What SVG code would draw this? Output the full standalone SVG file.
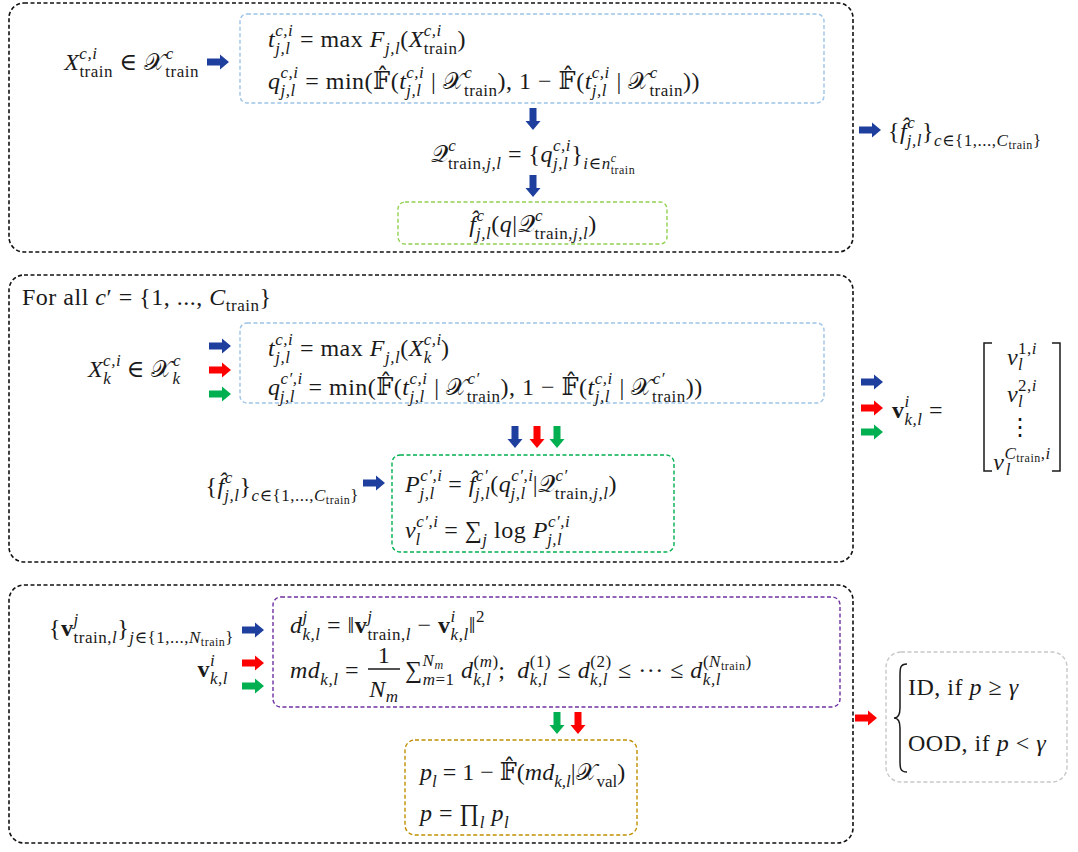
<svg xmlns="http://www.w3.org/2000/svg" width="1078" height="852" viewBox="0 0 1078 852">
<style>
.m{font-family:"Liberation Serif","DejaVu Serif",serif;font-size:24px;letter-spacing:0.5px;fill:#1a1a1a}
.i{font-style:italic}
.s{font-size:17px}
.t{font-size:12px}
.b{font-weight:bold}
.panel{fill:none;stroke:#111;stroke-width:1.6;stroke-dasharray:4 2.5}
.bx{fill:none;stroke-width:1.4;stroke-dasharray:4 2.5}
.blue{fill:#1f3f9e}.red{fill:#ff0000}.green{fill:#00b050}
.ln{fill:none;stroke:#1a1a1a;stroke-width:1.5}
</style>
<defs><path id="ar" d="M-11,-3.5 H2 V-7.5 L11,0 L2,7.5 V3.5 H-11 Z"/></defs>
<rect width="1078" height="852" fill="#fff"/>

<g id="panel1">
<rect class="panel" x="9" y="3" width="844" height="249" rx="15"/>
<g id="p1-input"><text class="m" x="199" y="70" text-anchor="end"><tspan class="i">X</tspan><tspan class="s i" dy="-11">c,i</tspan><tspan class="s" dx="-18" dy="18">train</tspan><tspan dy="-7"> ∈ 𝒳</tspan><tspan class="s i" dy="-11">c</tspan><tspan class="s" dx="-8.5" dy="18">train</tspan></text></g>
<g id="p1-box">
<rect class="bx" x="240" y="14" width="584" height="89" rx="7" stroke="#9dc3e6"/>
<text class="m" x="268" y="47"><tspan class="i">t</tspan><tspan class="s i" dy="-11">c,i</tspan><tspan class="s i" dx="-18" dy="18">j,l</tspan><tspan dx="3" dy="-7"> = max </tspan><tspan class="i">F</tspan><tspan class="s i" dy="7">j,l</tspan><tspan dy="-7">(</tspan><tspan class="i">X</tspan><tspan class="s i" dy="-11">c,i</tspan><tspan class="s" dx="-18" dy="18">train</tspan><tspan dy="-7">)</tspan></text>
<text class="m" x="268" y="89"><tspan class="i">q</tspan><tspan class="s i" dy="-11">c,i</tspan><tspan class="s i" dx="-18" dy="18">j,l</tspan><tspan dx="3" dy="-7"> = min(𝔽̂(</tspan><tspan class="i">t</tspan><tspan class="s i" dy="-11">c,i</tspan><tspan class="s i" dx="-18" dy="18">j,l</tspan><tspan dx="3" dy="-7"> | 𝒳</tspan><tspan class="s i" dy="-11">c</tspan><tspan class="s" dx="-8.5" dy="18">train</tspan><tspan dy="-7">), 1 − 𝔽̂(</tspan><tspan class="i">t</tspan><tspan class="s i" dy="-11">c,i</tspan><tspan class="s i" dx="-18" dy="18">j,l</tspan><tspan dx="3" dy="-7"> | 𝒳</tspan><tspan class="s i" dy="-11">c</tspan><tspan class="s" dx="-8.5" dy="18">train</tspan><tspan dy="-7">))</tspan></text>
</g>
<g id="p1-Q"><text class="m" x="533" y="162" text-anchor="middle"><tspan>𝒬</tspan><tspan class="s i" dy="-11">c</tspan><tspan class="s" dx="-8.5" dy="18">train,<tspan class="i">j,l</tspan></tspan><tspan dy="-7"> = {</tspan><tspan class="i">q</tspan><tspan class="s i" dy="-11">c,i</tspan><tspan class="s i" dx="-18" dy="18">j,l</tspan><tspan dx="3" dy="-7">}</tspan><tspan class="s i" dy="7">i</tspan><tspan class="s">∈</tspan><tspan class="s i">n</tspan><tspan class="t i" dy="-7">c</tspan><tspan class="t" dx="-5.8" dy="12">train</tspan></text></g>
<g id="p1-f">
<rect class="bx" x="398" y="202" width="269" height="42" rx="7" stroke="#92d050"/>
<text class="m" x="533" y="232" text-anchor="middle"><tspan class="i">f̂</tspan><tspan class="s i" dy="-11">c</tspan><tspan class="s i" dx="-8.5" dy="18">j,l</tspan><tspan dy="-7">(</tspan><tspan class="i">q</tspan><tspan>|𝒬</tspan><tspan class="s i" dy="-11">c</tspan><tspan class="s" dx="-8.5" dy="18">train,<tspan class="i">j,l</tspan></tspan><tspan dy="-7">)</tspan></text>
</g>
</g>
<g id="p1-out"><text class="m" x="888" y="139">{<tspan class="i">f̂</tspan><tspan class="s i" dy="-11">c</tspan><tspan class="s i" dx="-8.5" dy="18">j,l</tspan><tspan dy="-7">}</tspan><tspan class="s" dy="7"><tspan class="i">c</tspan>∈{1,...,<tspan class="i">C</tspan></tspan><tspan class="t" dy="3">train</tspan><tspan class="s" dy="-3">}</tspan></text></g>

<g id="panel2">
<rect class="panel" x="9" y="275" width="844" height="287" rx="15"/>
<text class="m" x="22" y="305">For all <tspan class="i">c</tspan>′ = {1, ..., <tspan class="i">C</tspan><tspan class="s" dy="6">train</tspan><tspan dy="-6">}</tspan></text>
<g id="p2-input"><text class="m" x="181" y="377" text-anchor="end"><tspan class="i">X</tspan><tspan class="s i" dy="-11">c,i</tspan><tspan class="s i" dx="-18" dy="18">k</tspan><tspan dx="9" dy="-7"> ∈ 𝒳</tspan><tspan class="s i" dy="-11">c</tspan><tspan class="s i" dx="-8.5" dy="18">k</tspan></text></g>
<g id="p2-box">
<rect class="bx" x="240" y="323" width="584" height="80" rx="7" stroke="#9dc3e6"/>
<text class="m" x="268" y="356"><tspan class="i">t</tspan><tspan class="s i" dy="-11">c,i</tspan><tspan class="s i" dx="-18" dy="18">j,l</tspan><tspan dx="3" dy="-7"> = max </tspan><tspan class="i">F</tspan><tspan class="s i" dy="7">j,l</tspan><tspan dy="-7">(</tspan><tspan class="i">X</tspan><tspan class="s i" dy="-11">c,i</tspan><tspan class="s i" dx="-18" dy="18">k</tspan><tspan dx="9" dy="-7">)</tspan></text>
<text class="m" x="268" y="395"><tspan class="i">q</tspan><tspan class="s i" dy="-11">c′,i</tspan><tspan class="s i" dx="-23" dy="18">j,l</tspan><tspan dx="7" dy="-7"> = min(𝔽̂(</tspan><tspan class="i">t</tspan><tspan class="s i" dy="-11">c,i</tspan><tspan class="s i" dx="-18" dy="18">j,l</tspan><tspan dx="3" dy="-7"> | 𝒳</tspan><tspan class="s i" dy="-11">c′</tspan><tspan class="s" dx="-13" dy="18">train</tspan><tspan dy="-7">), 1 − 𝔽̂(</tspan><tspan class="i">t</tspan><tspan class="s i" dy="-11">c,i</tspan><tspan class="s i" dx="-18" dy="18">j,l</tspan><tspan dx="3" dy="-7"> | 𝒳</tspan><tspan class="s i" dy="-11">c′</tspan><tspan class="s" dx="-13" dy="18">train</tspan><tspan dy="-7">))</tspan></text>
</g>
<g id="p2-fset"><text class="m" x="359" y="494" text-anchor="end">{<tspan class="i">f̂</tspan><tspan class="s i" dy="-11">c</tspan><tspan class="s i" dx="-8.5" dy="18">j,l</tspan><tspan dy="-7">}</tspan><tspan class="s" dy="7"><tspan class="i">c</tspan>∈{1,...,<tspan class="i">C</tspan></tspan><tspan class="t" dy="3">train</tspan><tspan class="s" dy="-3">}</tspan></text></g>
<g id="p2-P">
<rect class="bx" x="392" y="455" width="282" height="97" rx="8" stroke="#00b050"/>
<text class="m" x="405" y="492"><tspan class="i">P</tspan><tspan class="s i" dy="-11">c′,i</tspan><tspan class="s i" dx="-23" dy="18">j,l</tspan><tspan dx="7" dy="-7"> = </tspan><tspan class="i">f̂</tspan><tspan class="s i" dy="-11">c′</tspan><tspan class="s i" dx="-13" dy="18">j,l</tspan><tspan dy="-7">(</tspan><tspan class="i">q</tspan><tspan class="s i" dy="-11">c′,i</tspan><tspan class="s i" dx="-23" dy="18">j,l</tspan><tspan dx="7" dy="-7">|𝒬</tspan><tspan class="s i" dy="-11">c′</tspan><tspan class="s" dx="-13" dy="18">train,<tspan class="i">j,l</tspan></tspan><tspan dy="-7">)</tspan></text>
<text class="m" x="405" y="538"><tspan class="i">v</tspan><tspan class="s i" dy="-11">c′,i</tspan><tspan class="s i" dx="-23" dy="18">l</tspan><tspan dx="17" dy="-7"> = ∑</tspan><tspan class="s i" dy="7">j</tspan><tspan dy="-7"> log </tspan><tspan class="i">P</tspan><tspan class="s i" dy="-11">c′,i</tspan><tspan class="s i" dx="-23" dy="18">j,l</tspan></text>
</g>
</g>
<g id="p2-out">
<text class="m" x="892" y="418"><tspan class="b">v</tspan><tspan class="s i" dy="-11">i</tspan><tspan class="s i" dx="-5.2" dy="18">k,l</tspan><tspan dy="-7"> =</tspan></text>
<path class="ln" d="M992,343 H984 V471 H992 M1052,343 H1060 V471 H1052"/>
<text class="m" x="1022" y="365" text-anchor="middle"><tspan class="i">v</tspan><tspan class="s" dy="-11">1,<tspan class="i">i</tspan></tspan><tspan class="s i" dx="-19" dy="16">l</tspan></text>
<text class="m" x="1022" y="402" text-anchor="middle"><tspan class="i">v</tspan><tspan class="s" dy="-11">2,<tspan class="i">i</tspan></tspan><tspan class="s i" dx="-19" dy="16">l</tspan></text>
<text class="m" x="1020" y="435" text-anchor="middle">⋮</text>
<text class="m" x="1022" y="470" text-anchor="middle"><tspan class="i">v</tspan><tspan class="s i" dy="-11">C</tspan><tspan class="t" dy="3">train</tspan><tspan class="s" dy="-3">,<tspan class="i">i</tspan></tspan><tspan class="s i" dx="-45" dy="16">l</tspan></text>
</g>

<g id="panel3">
<rect class="panel" x="9" y="585" width="844" height="258" rx="15"/>
<g id="p3-inputs">
<text class="m" x="234" y="636" text-anchor="end">{<tspan class="b">v</tspan><tspan class="s i" dy="-11">j</tspan><tspan class="s" dx="-5.2" dy="18">train,<tspan class="i">l</tspan></tspan><tspan dy="-7">}</tspan><tspan class="s" dy="7"><tspan class="i">j</tspan>∈{1,...,<tspan class="i">N</tspan></tspan><tspan class="t" dy="3">train</tspan><tspan class="s" dy="-3">}</tspan></text>
<text class="m" x="228" y="677" text-anchor="end"><tspan class="b">v</tspan><tspan class="s i" dy="-11">i</tspan><tspan class="s i" dx="-5.2" dy="18">k,l</tspan></text>
</g>
<g id="p3-box">
<rect class="bx" x="273" y="597" width="567" height="110" rx="8" stroke="#7030a0"/>
<text class="m" x="290" y="633"><tspan class="i">d</tspan><tspan class="s i" dy="-11">j</tspan><tspan class="s i" dx="-5.2" dy="18">k,l</tspan><tspan dy="-7"> = ‖</tspan><tspan class="b">v</tspan><tspan class="s i" dy="-11">j</tspan><tspan class="s" dx="-5.2" dy="18">train,<tspan class="i">l</tspan></tspan><tspan dy="-7"> − </tspan><tspan class="b">v</tspan><tspan class="s i" dy="-11">i</tspan><tspan class="s i" dx="-5.2" dy="18">k,l</tspan><tspan dy="-7">‖</tspan><tspan class="s" dy="-11">2</tspan></text>
<text class="m" x="290" y="678"><tspan class="i">md</tspan><tspan class="s i" dy="7">k,l</tspan><tspan dy="-7"> =</tspan></text>
<text class="m" x="384" y="663" text-anchor="middle">1</text>
<path class="ln" d="M368,669 H400" stroke-width="1.2"/>
<text class="m" x="384" y="697" text-anchor="middle"><tspan class="i">N</tspan><tspan class="s i" dy="5">m</tspan></text>
<text class="m" x="405" y="678"><tspan>∑</tspan><tspan class="s i" dy="-12">N</tspan><tspan class="t i" dy="3">m</tspan><tspan class="s" dx="-21" dy="16"><tspan class="i">m</tspan>=1</tspan><tspan dy="-7"> </tspan><tspan class="i">d</tspan><tspan class="s" dy="-11">(<tspan class="i">m</tspan>)</tspan><tspan class="s i" dx="-25.5" dy="18">k,l</tspan><tspan dx="7" dy="-7">;</tspan><tspan dx="12" class="i">d</tspan><tspan class="s" dy="-11">(1)</tspan><tspan class="s i" dx="-21.5" dy="18">k,l</tspan><tspan dx="3.4" dy="-7"> ≤ </tspan><tspan class="i">d</tspan><tspan class="s" dy="-11">(2)</tspan><tspan class="s i" dx="-21.5" dy="18">k,l</tspan><tspan dx="3.4" dy="-7"> ≤ ··· ≤ </tspan><tspan class="i">d</tspan><tspan class="s i" dy="7">k,l</tspan><tspan class="s" dx="-18" dy="-18">(<tspan class="i">N</tspan></tspan><tspan class="t" dy="3">train</tspan><tspan class="s" dy="-3">)</tspan></text>
</g>
<g id="p3-p">
<rect class="bx" x="405" y="740" width="232" height="95" rx="10" stroke="#bf9000"/>
<text class="m" x="420" y="780" style="letter-spacing:0"><tspan class="i">p</tspan><tspan class="s i" dy="7">l</tspan><tspan dy="-7"> = 1 − 𝔽̂(</tspan><tspan class="i">md</tspan><tspan class="s i" dy="7">k,l</tspan><tspan dy="-7">|𝒳</tspan><tspan class="s" dy="7">val</tspan><tspan dy="-7">)</tspan></text>
<text class="m" x="420" y="821"><tspan class="i">p</tspan> = ∏<tspan class="s i" dy="7">l</tspan><tspan class="i" dy="-7"> p</tspan><tspan class="s i" dy="7">l</tspan></text>
</g>
</g>
<g id="decision">
<rect class="bx" x="886" y="652" width="181" height="130" rx="15" stroke="#c8c8c8"/>
<path class="ln" d="M907,664 C900,664 900,668 900,676 V708 C900,714 898,718 894,718 C898,718 900,722 900,728 V760 C900,768 900,772 907,772"/>
<text class="m" x="908" y="695">ID, if <tspan class="i">p</tspan> ≥ <tspan class="i">γ</tspan></text>
<text class="m" x="908" y="751">OOD, if <tspan class="i">p</tspan> &lt; <tspan class="i">γ</tspan></text>
</g>

<g id="connectors">
<use href="#ar" class="blue" transform="translate(218,62)"/>
<use href="#ar" class="blue" transform="translate(533,119) rotate(90)"/>
<use href="#ar" class="blue" transform="translate(533,186) rotate(90)"/>
<use href="#ar" class="blue" transform="translate(870,130)"/>
<use href="#ar" class="blue" transform="translate(220,346)"/>
<use href="#ar" class="red" transform="translate(220,370)"/>
<use href="#ar" class="green" transform="translate(220,394)"/>
<use href="#ar" class="blue" transform="translate(515,437) rotate(90)"/>
<use href="#ar" class="red" transform="translate(537,437) rotate(90)"/>
<use href="#ar" class="green" transform="translate(557,437) rotate(90)"/>
<use href="#ar" class="blue" transform="translate(374,483)"/>
<use href="#ar" class="blue" transform="translate(872,382)"/>
<use href="#ar" class="red" transform="translate(872,408)"/>
<use href="#ar" class="green" transform="translate(872,432)"/>
<use href="#ar" class="blue" transform="translate(253,630)"/>
<use href="#ar" class="red" transform="translate(253,663)"/>
<use href="#ar" class="green" transform="translate(253,686)"/>
<use href="#ar" class="green" transform="translate(557,723) rotate(90)"/>
<use href="#ar" class="red" transform="translate(578,723) rotate(90)"/>
<use href="#ar" class="red" transform="translate(866,718)"/>
</g>
</svg>
